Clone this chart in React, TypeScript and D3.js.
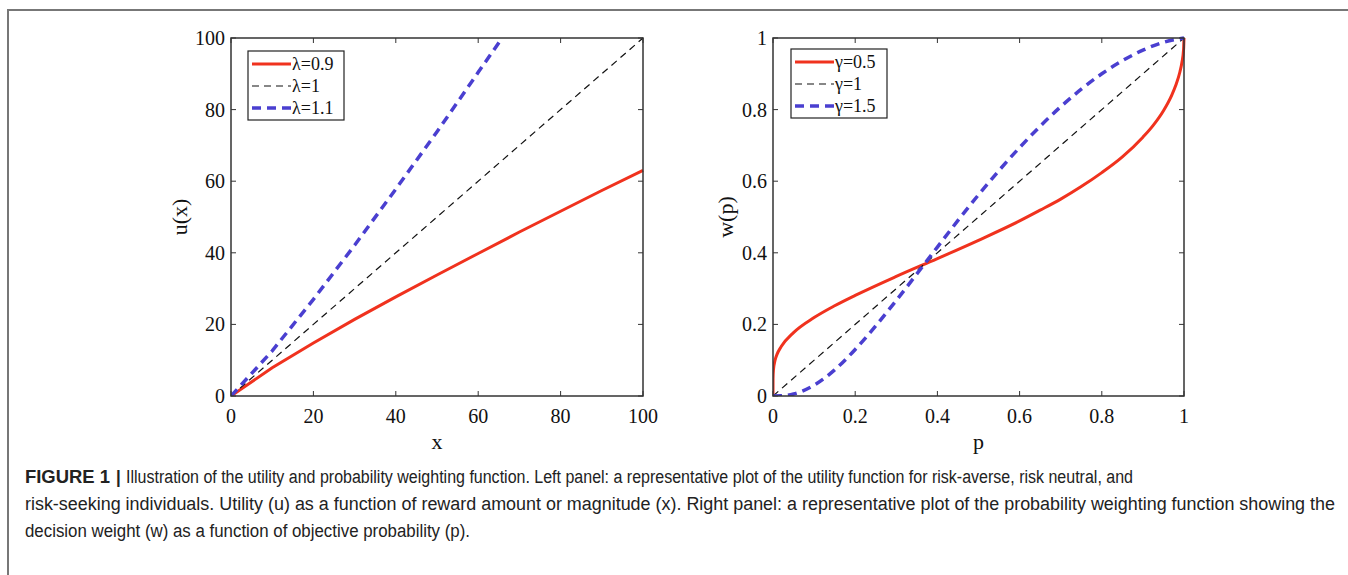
import React from "react";
import * as d3 from "d3";

// Left panel data (utility)
const uX = [0, 10, 20, 30, 40, 50, 60, 70, 80, 90, 100];
const uRisk09 = [0, 7.9, 14.8, 21.4, 27.7, 33.8, 39.8, 45.8, 51.6, 57.4, 63.0];
const uNeutralX = [0, 100];
const uNeutral = [0, 100];
const uSeekX = [0, 10, 20, 30, 40, 50, 60, 65.8];
const uSeek11 = [0, 12.6, 27.0, 42.1, 57.8, 73.8, 90.4, 100];
const leftXTicks = [0, 20, 40, 60, 80, 100];
const leftYTicks = [0, 20, 40, 60, 80, 100];
const leftLegend = ["λ=0.9", "λ=1", "λ=1.1"];

// Right panel data (probability weighting)
const pRed = [0, 0.0001, 0.001, 0.005, 0.01, 0.02, 0.05, 0.1, 0.15, 0.2, 0.3, 0.4, 0.5, 0.6, 0.65, 0.7, 0.75, 0.8, 0.85, 0.9, 0.925, 0.95, 0.97, 0.98, 0.99, 0.995, 0.999, 1];
const wGamma05 = [0, 0.048, 0.072, 0.1, 0.117, 0.138, 0.177, 0.219, 0.252, 0.281, 0.334, 0.384, 0.435, 0.489, 0.519, 0.55, 0.585, 0.624, 0.668, 0.723, 0.756, 0.797, 0.84, 0.868, 0.905, 0.932, 0.969, 1];
const pNeutral = [0, 1];
const wGamma1 = [0, 1];
const pBlue = [0, 0.02, 0.05, 0.1, 0.15, 0.2, 0.25, 0.3, 0.35, 0.4, 0.5, 0.6, 0.7, 0.8, 0.9, 0.95, 1];
const wGamma15 = [0, 0.0004, 0.0056, 0.03, 0.073, 0.13, 0.196, 0.267, 0.341, 0.416, 0.562, 0.694, 0.808, 0.9, 0.966, 0.988, 1];
const rightXTicks = [0, 0.2, 0.4, 0.6, 0.8, 1];
const rightYTicks = [0, 0.2, 0.4, 0.6, 0.8, 1];
const rightLegend = ["γ=0.5", "γ=1", "γ=1.5"];

const captionLines = [
  "Illustration of the utility and probability weighting function. Left panel: a representative plot of the utility function for risk-averse, risk neutral, and",
  "risk-seeking individuals. Utility (u) as a function of reward amount or magnitude (x). Right panel: a representative plot of the probability weighting function showing the",
  "decision weight (w) as a function of objective probability (p).",
];

const RED = "#f0321e";
const BLUE = "#4a3fd0";
const SERIF = "'Liberation Serif', 'Times New Roman', serif";
const SANS = "'Liberation Sans', Arial, sans-serif";

type Series = { xs: number[]; ys: number[]; color: string; width: number; dash?: string };

function Panel(props: {
  x0: number; x1: number; y0: number; y1: number;
  xDomain: [number, number]; yDomain: [number, number];
  xTicks: number[]; yTicks: number[]; fmt: (v: number) => string;
  series: Series[]; legend: string[]; legendX: number; legendY: number;
  xLabel: string; yLabel: string; yLabelX: number; smooth: boolean;
}) {
  const { x0, x1, y0, y1 } = props;
  const xs = d3.scaleLinear().domain(props.xDomain).range([x0, x1]);
  const ys = d3.scaleLinear().domain(props.yDomain).range([y1, y0]);
  const line = d3
    .line<[number, number]>()
    .x((d) => xs(d[0]))
    .y((d) => ys(d[1]))
    .curve(props.smooth ? d3.curveMonotoneX : d3.curveLinear);
  const tl = 5;
  const axisColor = "#333";
  const lw = 96, lh = 69;
  return (
    <g>
      <defs>
        <clipPath id={`clip${x0}`}>
          <rect x={x0} y={y0 - 2} width={x1 - x0 + 2} height={y1 - y0 + 2} />
        </clipPath>
      </defs>
      {props.xTicks.map((t) => (
        <g key={"xt" + t}>
          <line x1={xs(t)} x2={xs(t)} y1={y1} y2={y1 - tl} stroke={axisColor} strokeWidth={1} />
          <line x1={xs(t)} x2={xs(t)} y1={y0} y2={y0 + tl} stroke={axisColor} strokeWidth={1} />
          <text x={xs(t)} y={y1 + 27} textAnchor="middle" fontFamily={SERIF} fontSize={20} fill="#111">
            {props.fmt(t)}
          </text>
        </g>
      ))}
      {props.yTicks.map((t) => (
        <g key={"yt" + t}>
          <line x1={x0} x2={x0 + tl} y1={ys(t)} y2={ys(t)} stroke={axisColor} strokeWidth={1} />
          <line x1={x1} x2={x1 - tl} y1={ys(t)} y2={ys(t)} stroke={axisColor} strokeWidth={1} />
          <text x={x0 - 6} y={ys(t) + 7} textAnchor="end" fontFamily={SERIF} fontSize={20} fill="#111">
            {props.fmt(t)}
          </text>
        </g>
      ))}
      <g clipPath={`url(#clip${x0})`}>
        {props.series.map((s, i) => (
          <path
            key={i}
            d={line(s.xs.map((v, j) => [v, s.ys[j]] as [number, number])) || ""}
            fill="none"
            stroke={s.color}
            strokeWidth={s.width}
            strokeDasharray={s.dash}
          />
        ))}
      </g>
      <rect x={x0} y={y0} width={x1 - x0} height={y1 - y0} fill="none" stroke={axisColor} strokeWidth={1.5} />
      <text x={(x0 + x1) / 2} y={y1 + 53} textAnchor="middle" fontFamily={SERIF} fontSize={22} fill="#111">
        {props.xLabel}
      </text>
      <text
        transform={`translate(${props.yLabelX},${(y0 + y1) / 2}) rotate(-90)`}
        textAnchor="middle"
        fontFamily={SERIF}
        fontSize={22}
        fill="#111"
      >
        {props.yLabel}
      </text>
      <g>
        <rect x={props.legendX} y={props.legendY} width={lw} height={lh} fill="white" stroke="#222" strokeWidth={1.2} />
        {props.legend.map((name, i) => {
          const s = props.series[i];
          const cy = props.legendY + 13 + i * 22;
          return (
            <g key={name}>
              <line x1={props.legendX + 4} x2={props.legendX + 43} y1={cy} y2={cy} stroke={s.color} strokeWidth={s.width} strokeDasharray={s.dash} />
              <text x={props.legendX + 44} y={cy + 6} fontFamily={SERIF} fontSize={18} fill="#111">
                {name}
              </text>
            </g>
          );
        })}
      </g>
    </g>
  );
}

export default function App() {
  const W = 1348, H = 575;
  const cap = (y: number, children: React.ReactNode) => (
    <g transform={`translate(0,${y}) scale(1,1.12)`}>{children}</g>
  );
  return (
    <svg width={W} height={H} style={{ position: "absolute", left: 0, top: 0, background: "white" }}>
      <rect x={0} y={0} width={W} height={H} fill="white" />
      <path d={`M8,${H + 5} L8,10 L${W + 5},10`} fill="none" stroke="#777" strokeWidth={2} />
      <Panel
        x0={231} x1={643} y0={38} y1={396}
        xDomain={[0, 100]} yDomain={[0, 100]}
        xTicks={leftXTicks} yTicks={leftYTicks} fmt={(v) => String(v)}
        series={[
          { xs: uX, ys: uRisk09, color: RED, width: 3 },
          { xs: uNeutralX, ys: uNeutral, color: "#111", width: 1.2, dash: "7,5" },
          { xs: uSeekX, ys: uSeek11, color: BLUE, width: 3.5, dash: "9,6" },
        ]}
        legend={leftLegend} legendX={248} legendY={51}
        xLabel="x" yLabel="u(x)" yLabelX={187} smooth={false}
      />
      <Panel
        x0={773} x1={1184} y0={38} y1={396}
        xDomain={[0, 1]} yDomain={[0, 1]}
        xTicks={rightXTicks} yTicks={rightYTicks} fmt={(v) => (v === 0 || v === 1 ? String(v) : d3.format(".1f")(v))}
        series={[
          { xs: pRed, ys: wGamma05, color: RED, width: 3 },
          { xs: pNeutral, ys: wGamma1, color: "#111", width: 1.2, dash: "7,5" },
          { xs: pBlue, ys: wGamma15, color: BLUE, width: 3.5, dash: "9,6" },
        ]}
        legend={rightLegend} legendX={791} legendY={49}
        xLabel="p" yLabel="w(p)" yLabelX={733} smooth={true}
      />
      <g fontFamily={SANS} fontSize={17} fill="#222">
        {cap(483, <>
          <text x={25} y={0} fontWeight="bold" textLength={85} lengthAdjust="spacingAndGlyphs">FIGURE 1</text>
          <text x={116} y={0} fontWeight="bold">|</text>
          <text x={126} y={0} textLength={1007} lengthAdjust="spacingAndGlyphs">{captionLines[0]}</text>
        </>)}
        {cap(510, <text x={25} y={0} textLength={1310} lengthAdjust="spacingAndGlyphs">{captionLines[1]}</text>)}
        {cap(537, <text x={25} y={0} textLength={445} lengthAdjust="spacingAndGlyphs">{captionLines[2]}</text>)}
      </g>
    </svg>
  );
}
